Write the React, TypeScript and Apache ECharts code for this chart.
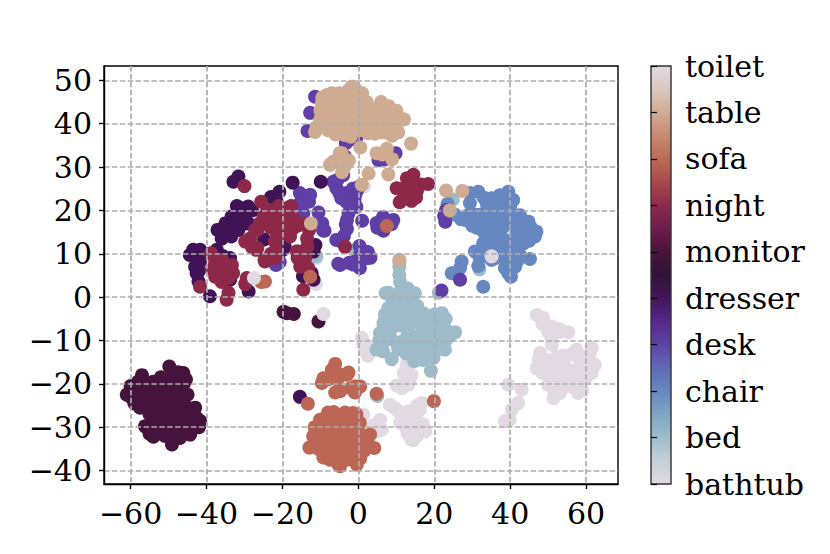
import React, { useEffect, useRef } from "react";
import * as echarts from "echarts";

const categories = ["bathtub", "bed", "chair", "desk", "dresser", "monitor", "night", "sofa", "table", "toilet"];
const xTicks = [-60, -40, -20, 0, 20, 40, 60];
const yTicks = [-40, -30, -20, -10, 0, 10, 20, 30, 40, 50];

const colors = {
  bathtub: "#e2d9e2", bed: "#9dbbc9", chair: "#6687c0", desk: "#5f3fa6", dresser: "#401256",
  monitor: "#46133d", night: "#8d2849", sofa: "#bc6755", table: "#cfab92", toilet: "#e2d9e2",
};

const twilightStops = ["#e2d9e2", "#c4d0d6", "#9ebcca", "#7fa5c3", "#6588c0", "#5f69b7", "#5d43a6", "#55288c", "#43155a", "#2f1436", "#4a1339", "#6d1c4b", "#8d2a4c", "#a9484d", "#bc6955", "#c88a6f", "#d0ab94", "#d9c8bf", "#e2d9e2"];

const bathtub = [[1.5,25.5],[-9.5,16.5],[-11.2,3],[-11,9],[0.9,-9.4],[1.8,-12.5],[1.2,-10.8],[2.5,-13.5],[2,-11],[3,-12.5],[12.7,-15.6],[14,-17.9],[13.2,-20.2],[10.1,-20.4],[12,-20],[12,-17.5],[13.5,-19],[11.5,-21],[1.3,-27.1],[5.7,-28.3],[6.2,-30.6],[4,-29.5],[5,-31],[8.3,-24.8],[9.5,-25.5],[16.7,-24.4],[16.2,-26],[13.2,-26.3],[10.5,-26.3],[11,-29],[14,-28],[16,-29],[17.1,-29.4],[17.6,-31],[14,-32.9],[13,-31.5],[13,-29],[15,-31],[12,-27.5],[12.5,-30],[15,-27],[15.5,-32],[16.5,-31],[15.5,-25],[14.5,-33],[11.5,-27.5]];
const bed = [[10.8,8.2],[10.8,7],[10.8,5.1],[11,3.5],[11.4,2.1],[7.2,0.9],[14.9,0.9],[12.5,0.5],[10,-0.5],[13,-1.5],[7.9,-2.5],[10,-3],[15.5,-2],[17.1,-3.7],[12,-4],[9,-5],[6.6,-6],[14,-6],[11,-6.5],[16.5,-6],[22,-3.7],[22,-4.7],[21,-6.5],[5.7,-8.3],[7.5,-8],[19,-7.5],[23,-7.5],[25.5,-8.1],[24,-9],[22,-9],[18,-9],[15.5,-9],[13.5,-9.5],[8.5,-9.5],[15,-11],[13,-11.5],[10.5,-12],[18,-11],[20.5,-11],[22.8,-12.1],[21,-10],[4.8,-12.1],[6.5,-12.5],[8.8,-14.3],[12.5,-13],[14.7,-14.8],[16.5,-13],[19.1,-13.5],[19.8,-14],[19.1,-17],[17,-14.5],[5,-22.8],[21.2,1],[31.9,6.4],[6.2,18],[24.9,22.5],[-11.1,9.4],[-0.9,10.9],[0.5,43.2],[9,-1],[11,1],[13,2],[8,1],[14,-3],[12,-2.5],[9,-7],[7,-4],[13,-8],[17,-8],[15,-5],[18,-5],[20,-8],[20,-5],[16,-10],[19,-12],[12,-10],[14,-13],[21,-12],[23,-10],[17,-12],[20,-4],[23,-5],[7,-10],[5.5,-10],[10,-10.5],[16,-4],[8,-6]];
const chair = [[31.6,24.3],[29.4,24],[29.4,21.7],[39.5,24.3],[40.8,22.4],[37.3,23.5],[35.1,22.8],[33.8,21.7],[28.1,17.8],[25.5,19],[31.2,16],[33,15.1],[42.6,18.9],[44.8,17.4],[46.9,15.1],[46.5,14],[45.5,16],[36.4,19],[39.1,19.8],[32,19],[34.5,19.5],[37.3,14.7],[36.9,17],[41.7,14.7],[40.8,10.9],[43.5,12.4],[45.2,8.8],[30.7,10.5],[32.9,12.4],[36.4,12.4],[38.2,9.3],[35.1,8.6],[41.3,7],[39.5,5.5],[38.6,6.7],[40.2,4.7],[31.6,7.2],[27.2,8.2],[26.8,6.7],[24.6,5.5],[32.9,2.4],[42,17],[43.5,15],[41,19],[39.5,17],[39.7,13],[41.8,11],[30,18],[33.5,17.5],[35,16],[34,10.5],[37,10.5],[39.5,11.5],[42.5,9.8],[36,21],[38.5,22],[23.5,21.5],[38,18],[35,18],[38,16],[36,15],[33,18],[31,19],[43,16.5],[44,14],[42,13],[45,13],[37,20],[40,21],[34,20.5],[30,16.5],[29,19],[27,18],[32,9],[34,12.5],[38,12],[36,9],[40,8],[39,7.5],[42,8.5],[37,22],[33,23],[35.5,13.5],[43,18],[32.5,10.5],[38,20.5]];
const desk = [[23.1,20.1],[22.6,18.7],[22.9,17.4],[26.8,4],[21.9,1.5],[4.8,17.1],[9.2,17.8],[6.6,15.3],[8.7,16.8],[6.5,18.5],[5,16],[1,17.6],[-3,17.8],[-3,15.7],[-2.6,19.3],[-3.8,14.1],[-3.3,16.8],[0.3,11.8],[2.5,10.4],[3.2,9.1],[0.5,10],[-1.8,8],[0.4,6.7],[-4.8,7.4],[2.2,9],[-0.3,8.5],[-3.2,23.1],[-4.5,24],[-0.4,24.5],[-0.9,23.4],[-3.2,22],[-4.5,22.8],[-6.6,26.6],[-5.8,25.1],[-5,24],[-3.3,22.4],[0.2,25.5],[-1.5,25],[-15.4,24],[-12.7,23.6],[-14.5,22],[-14.5,19.3],[-10.5,19.5],[-8.9,15.3],[-5.8,13.2],[-9.5,17],[-5.3,7.7],[-2.4,7.9],[-1.3,7.5],[-21.7,7.4],[-20.7,8.1],[-9.3,15.4],[-4.5,12.8],[-11.4,46.2],[-12.7,42.5],[-13.4,38.3],[-3.3,35.5],[-2.2,36.3],[-0.4,37],[-3.5,32.4],[-3.7,32.4],[9.8,33.2],[5.3,31.6],[7,31.8],[-4,28.1],[-9,42],[-8.5,45],[-5.5,27],[-3,24],[-1,22.5],[-2,21.5],[-13,22],[-15.5,21.5],[-0.5,20.8]];
const dresser = [[-31.6,27.8],[-32.9,26.6],[-17.3,26.4],[-9.9,26.6],[-20.8,24.3],[-23,23.1],[-21.5,22],[-18.8,20.5],[-29,20.9],[-30.8,20.5],[-33.4,18.6],[-31.5,19],[-31.3,16.2],[-37.1,15.5],[-36.4,15.5],[-35,14.5],[-33.5,14],[-31.6,15.5],[-24.8,13.3],[-19.4,11.7],[-20,10.8],[-43.5,10.9],[-41.7,10.9],[-44.4,9.7],[-41.7,8.2],[-42.6,5.5],[-42.1,3.6],[-39.1,0.2],[-37.3,10.9],[-33.8,9],[-35.8,9.5],[-33.8,4],[-28.9,1.3],[-12.3,5.5],[-14.6,4.8],[-11.8,4],[-11.3,12],[-11.8,10.5],[-15.4,-23],[-35,17],[-33,16],[-30,18],[-28,20],[-32,18],[-29,17],[-32,21],[-36,13.5],[-43,7],[-42,6],[-39,10]];
const monitor = [[-61,-22.5],[-60,-20.5],[-59,-24.5],[-58,-21.5],[-57,-18],[-57,-23],[-56,-20.5],[-55,-25],[-54,-19.5],[-54,-22],[-53,-26],[-52,-20],[-52,-23.5],[-51,-28],[-50,-21],[-50,-25],[-49.8,-16],[-49,-18.5],[-48,-20.5],[-47.5,-17.3],[-46.1,-17.5],[-45.4,-19],[-47,-21.5],[-56.2,-29.8],[-55,-31.5],[-54,-32.2],[-54,-28.5],[-52,-30],[-52,-27],[-51,-32],[-50,-29],[-49.1,-34],[-49,-31],[-49,-26.5],[-48,-28],[-47,-32.5],[-47,-30],[-47,-26],[-46,-24],[-46,-28],[-45,-31],[-44.5,-26],[-44,-29],[-44.3,-31.7],[-43,-25.5],[-42.5,-28],[-41.7,-28.5],[-42,-30],[-19.7,-3.4],[-18.8,-3.7],[-17,-3.9],[-10.5,-5.6],[-58,-19.5],[-56,-22.5],[-54,-24],[-52,-22],[-50,-23],[-48,-23],[-48,-25],[-53,-29.5],[-51,-25.5],[-50,-27],[-46,-20],[-48,-18],[-50,-19],[-52,-18.5],[-55,-27],[-53,-31],[-51,-30],[-49,-33],[-47.5,-31],[-45.5,-29.5],[-44,-27],[-43,-27.5],[-45,-22.5],[-47,-24],[-59,-22.5],[-60,-23],[-57.5,-25.5],[-56,-25],[-57,-20]];
const night = [[-30,25.6],[14.5,28.2],[12.8,27.4],[18.4,26.1],[16.6,26],[10.1,25.1],[11.9,25.1],[14.1,25.9],[15.4,24.4],[13.2,23.4],[10.9,21.9],[14,22.2],[15.2,23],[12,24],[13,26],[-25.6,22],[-17.7,21],[-14,17],[-22.9,20.1],[-25,18.5],[-20.6,19.3],[-18.8,17],[-17.6,15.5],[-27.2,15.5],[-29.8,12.8],[-26.9,10.9],[-24.7,8.6],[-21.7,10.9],[-23.2,16.1],[-19.5,14.7],[-21.6,15.1],[-18.9,15.1],[-17.2,15.9],[-26.6,15.5],[-22,12.8],[-23.5,18],[-21.5,17.5],[-28.5,13.5],[-26.6,11.3],[-24.6,8.2],[-23,10],[-16.3,10.5],[-15.8,10.5],[-13.4,11.7],[-13,15.4],[-13.5,13.5],[-15.3,7],[-14.5,7.7],[-13.2,6.7],[-14.5,1.7],[-3.5,11.6],[-41.7,2.4],[-38.8,10.1],[-37.7,8.2],[-35.9,8.6],[-33.3,7.4],[-37.7,4.7],[-36,6.5],[-34.2,4.4],[-34.2,1],[-34.7,-0.6],[-29.4,4.4],[-29.8,3],[-26,17],[-24,20],[-21,21],[-19,19],[-17,18],[-16,16.5],[-20,17],[-28,11.5],[-18,14],[-22,9],[-38,6],[-35,5.5],[-33,5.5],[-36,3.5],[-38.5,6.5],[-14,9],[-16,9]];
const sofa = [[7.5,16.4],[-12.7,4.7],[-24.6,3.6],[-25.6,3.5],[-13.3,-24.6],[-6.1,-15.4],[-9.2,-18.7],[-9.6,-19.8],[-7,-18.3],[-4.4,-17.9],[-2.6,-17.4],[-6.1,-22],[-5.3,-21.6],[-0.6,-20.6],[-2,-21],[-0.9,-22],[-3,-17.9],[-0.9,-20.6],[0.5,-20.6],[-4.8,-21.7],[4.8,-22.3],[19.9,-24],[-12.9,-34.7],[-11.9,-32.1],[-10.1,-28.3],[-8,-26.6],[-3.5,-26.6],[-1.4,-26.7],[0.4,-29],[3.1,-31.7],[4.2,-34.8],[-0.4,-38.6],[-4.8,-39],[-5.3,-38.6],[-9.2,-37],[-9,-28],[-7,-28.5],[-5,-28],[-3,-28.5],[-1,-28.5],[-10,-30.5],[-8,-30.5],[-6,-30.5],[-4,-30.5],[-2,-30.5],[0,-31],[1.5,-32],[-11,-33],[-9,-33],[-7,-33],[-5,-33],[-3,-33],[-1,-33],[1,-33.5],[2.5,-33.5],[-10.5,-35],[-8,-35.5],[-6,-35.5],[-4,-35.5],[-2,-35.5],[0,-35.5],[-7.5,-37.5],[-5.5,-37.5],[-3,-37.5],[-1,-37],[0.5,-37.2],[-11.5,-30],[-0.5,-27],[-8,-19],[-5.5,-19],[-7,-16.8],[-9,-31.5],[-6.5,-26.5],[-5,-36.8],[1.5,-35.5],[-8.5,-36],[-3.5,-34.5]];
const table = [[-12.5,17],[10.8,8.6],[23.1,24.6],[27.4,24.5],[24.1,20],[-11,39.3],[-11.4,38.1],[-8.3,46.6],[-9.6,44.7],[-6.6,39.7],[-4.9,40],[-1.3,48.5],[-1.8,48.5],[-2.6,47.7],[-3.6,37.4],[-6.6,46.2],[-4,44.7],[-0.6,45.4],[-7.4,42.4],[-4.9,33.2],[-6.6,31.2],[-3.6,30.1],[-5.5,31.5],[0.4,46.2],[2.2,45],[-4.4,33.2],[-4,29.8],[0.5,34.5],[-4.8,39.3],[7,43],[11.4,41],[10.5,38],[9,42],[4,42.3],[4.4,37.7],[6.6,40],[8.9,37.2],[13.9,35.4],[7.5,34.2],[4.8,33.2],[6.3,32.9],[8.9,31.8],[2.7,28.5],[7.9,28.3],[0.9,25.9],[0.2,38.5],[-3,40.9],[-1,43],[-2.5,41.5],[-5,42.5],[-6,45],[-3,47],[-1.5,44],[-8,44.5],[-9,40.5],[-0.5,40],[1,42],[2,40],[1.5,44],[-2,38.5],[2.5,37.8],[6.5,38],[8.5,40],[5,40.5],[-1,46.5],[-0.8,48],[-8,38.5],[-6,41],[-9.5,46],[-7,47],[-5,47],[-3.5,46],[-10,43],[-8.5,41.5],[-6,37.5],[-10,41],[3,41],[5,43.5],[6,45],[8,44],[10,43],[12,41],[7.5,38],[10,39.5],[3,43],[0,41],[-2,37],[4,39],[6,42],[8,41],[-4.5,46],[-3.5,43],[-5.5,41],[1,47],[-7.5,30.5],[-2.5,31.5],[-5,32.5],[-4.3,28.8]];
const toilet = [[-27.5,4.4],[-9.2,-3.9],[35.1,9.4],[47,-4.1],[48.7,-4.8],[48.5,-6.2],[50.9,-6.8],[53.1,-7.4],[55.3,-8.1],[50.9,-9.4],[47.9,-12.9],[47,-16.4],[52.3,-13.7],[57.5,-12.1],[56,-13.2],[61.5,-11.7],[62.3,-15.6],[61.5,-17.5],[49,-16.5],[50,-20.2],[51.4,-23.3],[53.1,-22.1],[57.9,-22.1],[59,-21.5],[52,-17],[54.5,-16],[56,-17],[58.5,-16],[59.5,-14],[50.5,-18.5],[53,-20],[55,-20.5],[57.5,-19.5],[55,-18.5],[60.5,-15],[48.5,-17.5],[39.5,-20.2],[43,-21.3],[42.1,-24.4],[40.4,-26],[39.9,-28.3],[38.6,-28.6],[47.5,-14.5],[50,-14.5],[54,-13.5],[58,-14],[61,-13],[52.5,-15],[54,-18],[60,-18.5],[51.5,-21.5],[57,-21],[58,-18],[49.5,-16],[53,-8],[50,-8],[51,-11]];

const seriesData = { bathtub, bed, chair, desk, dresser, monitor, night, sofa, table, toilet };
const fontFamily = "'DejaVu Serif'";
const fontSize = 30;
const minus = (v: number) => String(v).replace("-", "\u2212");

export default function App() {
  const ref = useRef<HTMLDivElement>(null);
  useEffect(() => {
    const chart = echarts.init(ref.current!, undefined, { renderer: "svg" });
    const labelStyle = { color: "#000", fontFamily, fontSize };
    const gridLine = { show: true, lineStyle: { color: "#adadad", width: 1.7, type: [5.5, 2.4] as any } };
    chart.setOption({
      animation: false,
      backgroundColor: "#fff",
      grid: [
        { left: 104, top: 66, width: 514, height: 418, show: true, backgroundColor: "transparent", borderColor: "#000", borderWidth: 1.4 },
        {
          left: 651, top: 66, width: 20, height: 418, show: true, borderColor: "#333", borderWidth: 1.4,
          backgroundColor: new echarts.graphic.LinearGradient(0, 1, 0, 0,
            twilightStops.map((color, i) => ({ offset: i / (twilightStops.length - 1), color }))),
        },
      ],
      xAxis: [
        {
          gridIndex: 0, type: "value", min: -67, max: 68.4, z: 10,
          axisLine: { show: true, onZero: false, lineStyle: { color: "#000", width: 1.4 } },
          axisTick: { show: true, length: 5, customValues: xTicks, lineStyle: { color: "#000", width: 1.4 } },
          axisLabel: { ...labelStyle, margin: 14, customValues: xTicks, formatter: minus },
          splitLine: gridLine,
        },
        { gridIndex: 1, type: "value", min: 0, max: 1, show: false },
      ],
      yAxis: [
        {
          gridIndex: 0, type: "value", min: -43.1, max: 53.3, z: 10,
          axisLine: { show: true, onZero: false, lineStyle: { color: "#000", width: 1.4 } },
          axisTick: { show: true, length: 5, customValues: yTicks, lineStyle: { color: "#000", width: 1.4 } },
          axisLabel: { ...labelStyle, margin: 12, padding: [3, 0, 0, 0], customValues: yTicks, formatter: minus },
          splitLine: gridLine,
        },
        {
          gridIndex: 1, type: "value", min: 0, max: 9, interval: 1, position: "right",
          axisLine: { show: false },
          axisTick: { show: true, length: 6, lineStyle: { color: "#000", width: 1.2 } },
          axisLabel: { ...labelStyle, margin: 14, padding: [4, 0, 0, 0], showMinLabel: true, showMaxLabel: true, formatter: (v: number) => categories[v] },
          splitLine: { show: false },
        },
      ],
      series: categories.map((name) => ({
        name,
        type: "scatter",
        xAxisIndex: 0,
        yAxisIndex: 0,
        symbolSize: 14,
        data: (seriesData as any)[name],
        itemStyle: { color: (colors as any)[name], opacity: 1 },
      })),
    });
    return () => chart.dispose();
  }, []);
  return <div ref={ref} style={{ position: "absolute", left: 0, top: 0, width: 830, height: 554 }} />;
}
